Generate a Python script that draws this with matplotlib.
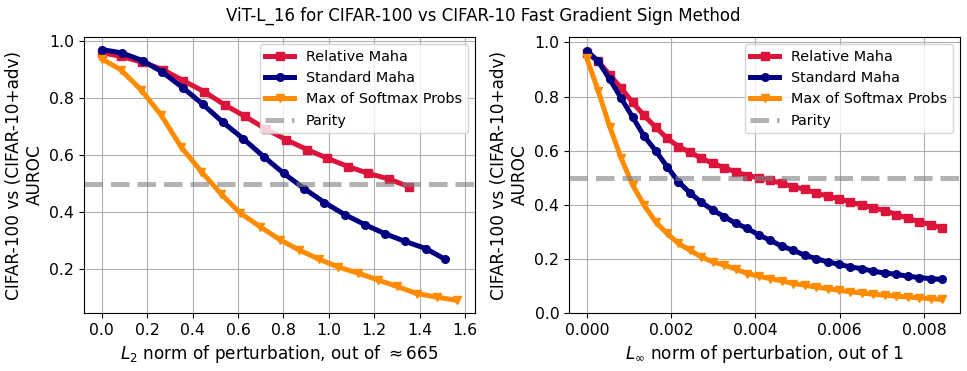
import matplotlib
matplotlib.use("Agg")
import matplotlib.pyplot as plt

# ---- Left panel: L2 norm ----
x_l2_rel = [0.0, 0.085, 0.177, 0.268, 0.359, 0.452, 0.542, 0.631, 0.722, 0.812,
            0.906, 0.994, 1.085, 1.175, 1.266, 1.355]
y_l2_rel = [0.959, 0.946, 0.926, 0.900, 0.861, 0.822, 0.776, 0.736, 0.692, 0.654,
            0.619, 0.589, 0.560, 0.536, 0.516, 0.489]

x_l2_std = [0.0, 0.089, 0.180, 0.265, 0.356, 0.444, 0.534, 0.624, 0.713, 0.802,
            0.893, 0.981, 1.070, 1.161, 1.247, 1.336, 1.427, 1.513]
y_l2_std = [0.970, 0.958, 0.931, 0.892, 0.837, 0.779, 0.715, 0.657, 0.595, 0.536,
            0.482, 0.434, 0.392, 0.356, 0.325, 0.298, 0.273, 0.235]

x_l2_msp = [0.0, 0.084, 0.174, 0.262, 0.348, 0.439, 0.527, 0.608, 0.697, 0.786,
            0.871, 0.956, 1.042, 1.129, 1.216, 1.301, 1.389, 1.475, 1.566]
y_l2_msp = [0.937, 0.899, 0.828, 0.740, 0.630, 0.542, 0.463, 0.398, 0.350, 0.303,
            0.267, 0.236, 0.208, 0.187, 0.163, 0.140, 0.115, 0.103, 0.091]

# ---- Right panel: L_inf norm ----
x_linf = [0.0, 0.000272, 0.000544, 0.000816, 0.001088, 0.00136, 0.001632, 0.001904,
          0.002176, 0.002448, 0.00272, 0.002992, 0.003264, 0.003536, 0.003808, 0.00408,
          0.004352, 0.004624, 0.004896, 0.005168, 0.00544, 0.005712, 0.005984, 0.006256,
          0.006528, 0.0068, 0.007072, 0.007344, 0.007616, 0.007888, 0.00816, 0.008432]
y_linf_rel = [0.961, 0.930, 0.880, 0.831, 0.778, 0.730, 0.687, 0.646, 0.615, 0.594,
              0.572, 0.553, 0.537, 0.521, 0.508, 0.500, 0.491, 0.479, 0.467, 0.457,
              0.444, 0.432, 0.422, 0.410, 0.399, 0.389, 0.378, 0.364, 0.350, 0.337,
              0.327, 0.313]
y_linf_std = [0.970, 0.930, 0.864, 0.794, 0.724, 0.654, 0.600, 0.541, 0.485, 0.444,
              0.409, 0.380, 0.356, 0.331, 0.313, 0.288, 0.269, 0.247, 0.232, 0.214,
              0.201, 0.189, 0.180, 0.170, 0.164, 0.154, 0.148, 0.143, 0.136, 0.131,
              0.127, 0.124]
y_linf_msp = [0.942, 0.821, 0.689, 0.572, 0.473, 0.399, 0.337, 0.294, 0.257, 0.232,
              0.207, 0.189, 0.177, 0.162, 0.146, 0.136, 0.127, 0.119, 0.109, 0.103,
              0.096, 0.090, 0.084, 0.078, 0.074, 0.069, 0.066, 0.062, 0.059, 0.056,
              0.053, 0.050]

labels = ["Relative Maha", "Standard Maha", "Max of Softmax Probs", "Parity"]
colors = ["crimson", "navy", "darkorange"]
markers = ["s", "o", "v"]
parity_value = 0.5
title = "ViT-L_16 for CIFAR-100 vs CIFAR-10 Fast Gradient Sign Method"
ylabel = "CIFAR-100 vs (CIFAR-10+adv)\nAUROC"
xlabel_l2 = r"$L_2$ norm of perturbation, out of $\approx 665$"
xlabel_linf = r"$L_\infty$ norm of perturbation, out of 1"

TICK_FS = 11.3
LABEL_FS = 12.2
TITLE_FS = 12
LEG_FS = 10.4
LW = 3.6
MS = 5.5

fig = plt.figure(figsize=(9.67, 3.71), dpi=100)
ax1 = fig.add_axes([0.0869, 0.1563, 0.4043, 0.744])
ax2 = fig.add_axes([0.5884, 0.1563, 0.4043, 0.744])

panels = [
    (ax1, [(x_l2_rel, y_l2_rel), (x_l2_std, y_l2_std), (x_l2_msp, y_l2_msp)], xlabel_l2),
    (ax2, [(x_linf, y_linf_rel), (x_linf, y_linf_std), (x_linf, y_linf_msp)], xlabel_linf),
]

for ax, series, xl in panels:
    for (xs, ys), c, m, lab in zip(series, colors, markers, labels):
        ax.plot(xs, ys, color=c, marker=m, lw=LW, ms=MS, label=lab)
    ax.axhline(parity_value, color="gray", ls="--", lw=LW, alpha=0.6, label=labels[3])
    ax.grid(True)
    ax.set_xlabel(xl, fontsize=LABEL_FS)
    ax.set_ylabel(ylabel, fontsize=LABEL_FS)
    ax.tick_params(labelsize=TICK_FS)
    ax.legend(loc="upper right", fontsize=LEG_FS)

ax1.set_xticks([0.0, 0.2, 0.4, 0.6, 0.8, 1.0, 1.2, 1.4, 1.6])
ax2.set_ylim(0, 1.02)

fig.suptitle(title, fontsize=TITLE_FS, y=0.957, va="center")
fig.savefig("out.png", dpi=100)
